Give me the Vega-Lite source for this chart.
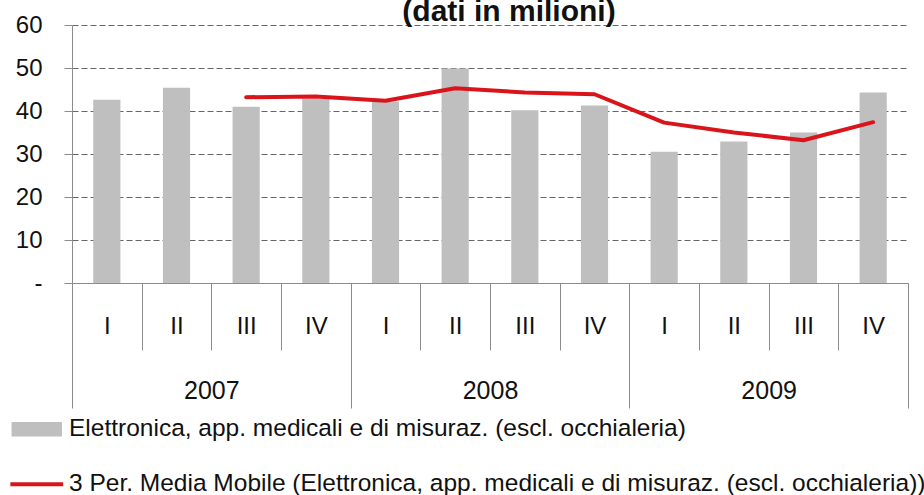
{
  "$schema": "https://vega.github.io/schema/vega-lite/v6.json",
  "width": 836,
  "height": 258,
  "autosize": {"type": "none"},
  "padding": {"left": 72, "top": 25, "right": 16, "bottom": 212},
  "background": "white",
  "title": {
    "text": "(dati in milioni)",
    "fontSize": 30,
    "fontWeight": "bold",
    "color": "#111111",
    "anchor": "middle",
    "frame": "group",
    "dx": 19,
    "baseline": "bottom",
    "offset": -44
  },
  "config": {
    "font": "Liberation Sans",
    "view": {"stroke": null}
  },
  "datasets": {
    "main": [
      {"q": "2007 I", "v": 42.6, "ma": null},
      {"q": "2007 II", "v": 45.4, "ma": null},
      {"q": "2007 III", "v": 41.0, "ma": 43.2},
      {"q": "2007 IV", "v": 42.8, "ma": 43.4},
      {"q": "2008 I", "v": 42.2, "ma": 42.4},
      {"q": "2008 II", "v": 49.9, "ma": 45.3},
      {"q": "2008 III", "v": 40.2, "ma": 44.3},
      {"q": "2008 IV", "v": 41.3, "ma": 43.9},
      {"q": "2009 I", "v": 30.5, "ma": 37.3},
      {"q": "2009 II", "v": 32.9, "ma": 35.0},
      {"q": "2009 III", "v": 35.0, "ma": 33.2},
      {"q": "2009 IV", "v": 44.3, "ma": 37.4}
    ],
    "years": [
      {"year": "2007"},
      {"year": "2008"},
      {"year": "2009"}
    ]
  },
  "layer": [
    {
      "data": {"name": "main"},
      "encoding": {
        "x": {
          "field": "q",
          "type": "ordinal",
          "sort": null,
          "scale": {"paddingInner": 0, "paddingOuter": 0},
          "axis": {
            "orient": "bottom",
            "title": null,
            "labelAngle": 0,
            "labelExpr": "split(datum.label, ' ')[1]",
            "labelFontSize": 24,
            "labelColor": "#111111",
            "labelBaseline": "middle",
            "labelPadding": -24,
            "tickBand": "extent",
            "tickSize": 67,
            "tickColor": "#8c8c8c",
            "domainColor": "#8c8c8c",
            "grid": false
          }
        }
      },
      "layer": [
        {
          "mark": {"type": "bar", "width": {"band": 0.39}},
          "encoding": {
            "y": {
              "field": "v",
              "type": "quantitative",
              "scale": {"domain": [0, 60], "nice": false},
              "axis": {
                "title": null,
                "values": [0, 10, 20, 30, 40, 50, 60],
                "labelExpr": "datum.value == 0 ? '-' : datum.label",
                "labelFontSize": 24,
                "labelColor": "#111111",
                "labelPadding": 22,
                "tickSize": 8,
                "tickColor": "#8c8c8c",
                "domainColor": "#8c8c8c",
                "grid": true,
                "gridColor": "#666666",
                "gridDash": [6, 3],
                "gridWidth": 1
              }
            },
            "color": {
              "datum": "Elettronica, app. medicali e di misuraz. (escl. occhialeria)",
              "scale": {
                "domain": [
                  "Elettronica, app. medicali e di misuraz. (escl. occhialeria)",
                  "3 Per. Media Mobile (Elettronica, app. medicali e di misuraz. (escl. occhialeria))"
                ],
                "range": ["#BFBFBF", "#D9151B"]
              },
              "legend": {
                "title": null,
                "orient": "none",
                "legendX": -47.5,
                "legendY": 392,
                "direction": "vertical",
                "labelFontSize": 24.5,
                "labelColor": "#111111",
                "labelLimit": 1000,
                "rowPadding": 30,
                "symbolSize": 576,
                "labelOffset": 20,
                "encode": {
                  "symbols": {
                    "update": {
                      "shape": {"signal": "datum.index === 0 ? 'M-2.1,-0.6H2.1V0.6H-2.1Z' : 'M-2.2,0H2.2'"},
                      "fill": {"signal": "datum.index === 0 ? '#BFBFBF' : 'transparent'"},
                      "stroke": {"signal": "datum.index === 0 ? 'transparent' : '#D9151B'"},
                      "strokeWidth": {"signal": "datum.index === 0 ? 0 : 4"},
                      "opacity": {"value": 1}
                    }
                  }
                }
              }
            }
          }
        },
        {
          "transform": [{"filter": {"field": "ma", "valid": true}}],
          "mark": {"type": "line", "strokeWidth": 4, "strokeCap": "round", "strokeJoin": "round"},
          "encoding": {
            "y": {"field": "ma", "type": "quantitative"},
            "color": {"datum": "3 Per. Media Mobile (Elettronica, app. medicali e di misuraz. (escl. occhialeria))"}
          }
        }
      ]
    },
    {
      "data": {"name": "years"},
      "mark": {"type": "rule", "strokeOpacity": 0},
      "encoding": {
        "x": {
          "field": "year",
          "type": "ordinal",
          "sort": null,
          "scale": {"paddingInner": 0, "paddingOuter": 0},
          "axis": {
            "orient": "bottom",
            "title": null,
            "labelAngle": 0,
            "labelFontSize": 25,
            "labelColor": "#111111",
            "labelBaseline": "middle",
            "labelPadding": -18,
            "tickBand": "extent",
            "tickSize": 125,
            "tickColor": "#8c8c8c",
            "domain": false,
            "grid": false
          }
        }
      }
    }
  ],
  "resolve": {"scale": {"x": "independent"}, "axis": {"x": "independent"}}
}
